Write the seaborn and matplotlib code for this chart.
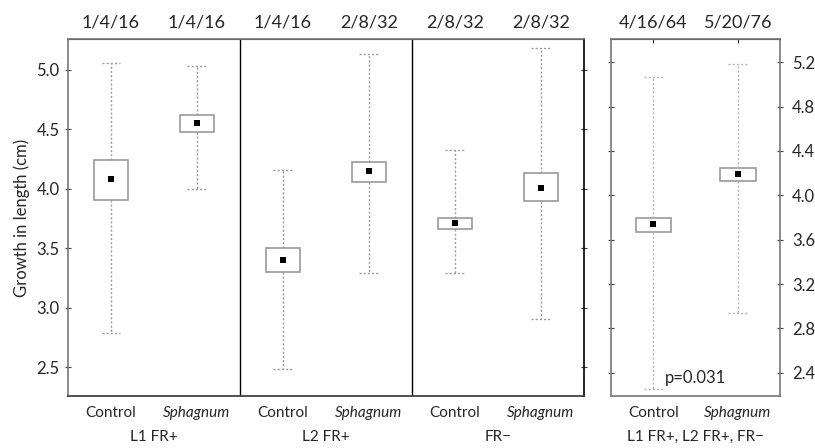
import numpy as np
import matplotlib
matplotlib.use("Agg")
import matplotlib.pyplot as plt
import seaborn as sns

# Datos
groups = ["L1 FR+", "L2 FR+", "FR\u2212"]
treatments = ["Control", "Sphagnum"]
n_labels = ["1/4/16", "1/4/16", "1/4/16", "2/8/32", "2/8/32", "2/8/32"]
means = [4.08, 4.55, 3.40, 4.15, 3.71, 4.01]
box_lo = [3.91, 4.48, 3.30, 4.06, 3.66, 3.90]
box_hi = [4.24, 4.62, 3.50, 4.23, 3.76, 4.13]
w_min = [2.79, 4.00, 2.49, 3.29, 3.29, 2.91]
w_max = [5.06, 5.03, 4.16, 5.13, 4.33, 5.18]

pooled_label = "L1 FR+, L2 FR+, FR\u2212"
pooled_n = ["4/16/64", "5/20/76"]
pooled_means = [3.74, 4.19]
pooled_lo = [3.67, 4.13]
pooled_hi = [3.80, 4.25]
pooled_min = [2.25, 2.94]
pooled_max = [5.07, 5.18]
p_text = "p=0.031"

sns.set_style("ticks")
plt.rcParams['font.family'] = ['Lato', 'DejaVu Sans']

gray = "#9a9a9a"


def draw_boxes(ax, pos, m, lo, hi, wmin, wmax, width, wcolor=gray):
    stats = [dict(med=mm, q1=l, q3=h, whislo=a, whishi=b, fliers=[])
             for mm, l, h, a, b in zip(m, lo, hi, wmin, wmax)]
    ax.bxp(stats, positions=pos, widths=width, showfliers=False,
           patch_artist=True, manage_ticks=False,
           boxprops=dict(facecolor="white", edgecolor=gray, linewidth=1.2),
           medianprops=dict(linewidth=0),
           whiskerprops=dict(color=wcolor, linestyle=(0, (1.5, 1.5)), linewidth=1),
           capprops=dict(color=wcolor, linestyle=(0, (1.5, 1.5)), linewidth=1),
           capwidths=0.22)
    sns.scatterplot(x=pos, y=m, marker='s', color='black', s=18,
                    linewidth=0, legend=False, ax=ax, zorder=5)


fig = plt.figure(figsize=(8.15, 4.48), dpi=100)
ax = fig.add_axes([0.0834, 0.116, 0.633, 0.797])
ax2 = fig.add_axes([0.7497, 0.116, 0.2074, 0.797])

# panel izquierdo
pos = np.arange(len(means)) + 0.5
draw_boxes(ax, pos, means, box_lo, box_hi, w_min, w_max, 0.4)
ax.set_xlim(0, 6)
ax.set_ylim(2.26, 5.26)
ax.set_yticks(np.arange(2.5, 5.01, 0.5))
ax.set_yticklabels(["{:.1f}".format(v) for v in np.arange(2.5, 5.01, 0.5)], fontsize=12)
ax.tick_params(axis='y', right=True, direction='inout', length=5, color='#444')
ax.set_xticks(pos)
ax.set_xticklabels(treatments * 3, fontsize=11)
ax.tick_params(axis='x', length=0, pad=7)
for i, t in enumerate(ax.get_xticklabels()):
    if i % 2 == 1:
        t.set_fontstyle('italic')
for x in [2, 4]:
    ax.axvline(x, color='black', linewidth=1)
for k, g in enumerate(groups):
    ax.text(2 * k + 1, -0.115, g, transform=ax.get_xaxis_transform(),
            ha='center', va='center', fontsize=11)
top = ax.secondary_xaxis('top')
top.set_xticks(pos)
top.set_xticklabels(n_labels, fontsize=13)
top.tick_params(length=0, pad=6)
ax.set_ylabel("Growth in length (cm)", fontsize=12, labelpad=5)
for s in ax.spines.values():
    s.set_color('#777')
    s.set_linewidth(1.2)
ax.spines['right'].set_color('black')
ax.spines['bottom'].set_color('#333')

# panel derecho (agrupado)
pos2 = np.array([0.5, 1.5])
draw_boxes(ax2, pos2, pooled_means, pooled_lo, pooled_hi, pooled_min, pooled_max,
           0.42, wcolor="#b5b5b5")
ax2.set_xlim(0, 2)
ax2.set_ylim(2.19, 5.41)
yt = np.arange(2.4, 5.21, 0.4)
ax2.set_yticks(yt)
ax2.set_yticklabels(["{:.1f}".format(v) for v in yt], fontsize=12)
ax2.yaxis.tick_right()
ax2.tick_params(axis='y', left=True, right=True, direction='inout', length=5, color='#444', pad=6)
ax2.set_xticks(pos2)
ax2.set_xticklabels(treatments, fontsize=11)
ax2.get_xticklabels()[1].set_fontstyle('italic')
ax2.tick_params(axis='x', length=0, pad=7)
ax2.text(1, -0.115, pooled_label, transform=ax2.get_xaxis_transform(),
         ha='center', va='center', fontsize=11)
ax2.text(1, 0.05, p_text, transform=ax2.get_xaxis_transform(),
         ha='center', va='center', fontsize=12)
top2 = ax2.secondary_xaxis('top')
top2.set_xticks(pos2)
top2.set_xticklabels(pooled_n, fontsize=13)
top2.tick_params(direction='in', length=3, pad=6)
for s in ax2.spines.values():
    s.set_color('#777')
    s.set_linewidth(1.2)

fig.savefig("out.png", dpi=100)
